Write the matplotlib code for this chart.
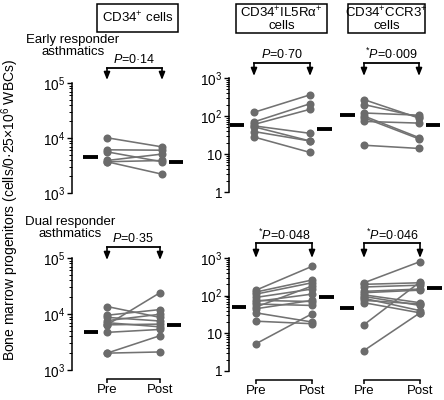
import matplotlib
matplotlib.use('Agg')
import matplotlib.pyplot as plt
from matplotlib.patches import Rectangle
from matplotlib.ticker import FixedLocator, LogLocator, NullFormatter
import numpy as np

# ---------------- data ----------------
headers = ["CD34$^{+}$ cells", "CD34$^{+}$IL5Rα$^{+}$\ncells", "CD34$^{+}$CCR3$^{+}$\ncells"]
groups = ["Early responder\nasthmatics", "Dual responder\nasthmatics"]
xlabels = ["Pre", "Post"]

# Early responders
early_cd34_pre = [10100, 6100, 5600, 3900, 3700, 3700]
early_cd34_post = [6900, 6000, 3700, 5100, 3900, 2200]
early_cd34_med = [4500, 3700]
early_il5_pre = [125, 70, 60, 55, 52, 39, 28]
early_il5_post = [360, 210, 150, 35, 22, 22, 11]
early_il5_med = [58, 45]
early_ccr3_pre = [270, 200, 120, 100, 90, 72, 17]
early_ccr3_post = [88, 95, 105, 27, 25, 65, 14]
early_ccr3_med = [105, 58]

# Dual responders
dual_cd34_pre = [13600, 9500, 8700, 7600, 7000, 6400, 6400, 4700, 2000, 2000]
dual_cd34_post = [8700, 12000, 7500, 9900, 5900, 24000, 6600, 5300, 4100, 2100]
dual_cd34_med = [4700, 6300]
dual_il5_pre = [140, 125, 110, 90, 75, 70, 60, 50, 45, 35, 21, 5.3]
dual_il5_post = [600, 260, 220, 150, 70, 110, 55, 180, 75, 20, 18, 33]
dual_il5_med = [49, 95]
dual_ccr3_pre = [220, 200, 170, 130, 120, 105, 95, 85, 75, 65, 17, 3.5]
dual_ccr3_post = [800, 220, 190, 150, 140, 65, 55, 40, 60, 35, 230, 35]
dual_ccr3_med = [47, 160]

pvals = ["$\\it{P}$=0·14", "$\\it{P}$=0·70", "$^{*}$$\\it{P}$=0·009",
         "$\\it{P}$=0·35", "$^{*}$$\\it{P}$=0·048", "$^{*}$$\\it{P}$=0·046"]

cd34_ticks = [1e3, 1e4, 1e5]
cd34_ticklabels = ["10$^{3}$", "10$^{4}$", "10$^{5}$"]
sub_ticks = [1, 10, 100, 1000]
sub_ticklabels = ["1", "10", "10$^{2}$", "10$^{3}$"]

# ---------------- style ----------------
W, H = 444, 400
plt.rcParams['font.family'] = ['Liberation Sans', 'DejaVu Sans']
plt.rcParams['mathtext.fontset'] = 'custom'
plt.rcParams['mathtext.rm'] = 'Liberation Sans'
plt.rcParams['mathtext.it'] = 'Liberation Sans:italic'
plt.rcParams['mathtext.bf'] = 'Liberation Sans:bold'

PT = '#6b6b6b'
LN = '#727272'

fig = plt.figure(figsize=(W / 100, H / 100), dpi=100)


def add_ax(l, t, r, b):
    return fig.add_axes([l / W, 1 - b / H, (r - l) / W, (b - t) / H])


def panel(box, pre_px, post_px, ylim, pre, post, med, yaxis, bottom, ptxt,
          br_y, tip_y, txt_y):
    l, t, r, b = box
    ax = add_ax(l, t, r, b)
    ax.patch.set_alpha(0)
    unit = post_px - pre_px
    ax.set_xlim((l - pre_px) / unit, (r - pre_px) / unit)
    ax.set_yscale('log')
    ax.set_ylim(*ylim)
    for a, c in zip(pre, post):
        ax.plot([0, 1], [a, c], color=LN, lw=1.15, zorder=2, clip_on=False)
    ax.plot(np.zeros(len(pre)), pre, 'o', ms=5.8, color=PT, mec='none',
            zorder=3, clip_on=False)
    ax.plot(np.ones(len(post)), post, 'o', ms=5.8, color=PT, mec='none',
            zorder=3, clip_on=False)
    ax.plot([-0.43, -0.17], [med[0], med[0]], color='k', lw=2.8,
            solid_capstyle='butt', zorder=4, clip_on=False)
    ax.plot([1.13, 1.39], [med[1], med[1]], color='k', lw=2.8,
            solid_capstyle='butt', zorder=4, clip_on=False)

    for s in ['top', 'right']:
        ax.spines[s].set_visible(False)
    if yaxis is not None:
        ticks, labels = yaxis
        ax.spines['left'].set_linewidth(1.1)
        ax.yaxis.set_major_locator(FixedLocator(ticks))
        ax.set_yticklabels(labels)
        ax.yaxis.set_minor_locator(LogLocator(base=10, subs=np.arange(2, 10)))
        ax.yaxis.set_minor_formatter(NullFormatter())
        ax.tick_params(axis='y', which='major', length=3.5, width=1.0,
                       direction='out', labelsize=9.8, pad=1.5)
        ax.tick_params(axis='y', which='minor', length=2.2, width=0.7,
                       direction='out')
    else:
        ax.spines['left'].set_visible(False)
        ax.yaxis.set_major_locator(FixedLocator([]))
        ax.yaxis.set_minor_locator(FixedLocator([]))
    if bottom:
        ax.spines['bottom'].set_bounds(0, 1)
        ax.spines['bottom'].set_position(('outward', 6.5))
        ax.spines['bottom'].set_linewidth(1.1)
        ax.set_xticks([0, 1])
        ax.set_xticklabels(xlabels)
        ax.tick_params(axis='x', length=3, width=1.1, direction='out',
                       labelsize=9.5, pad=0.8)
    else:
        ax.spines['bottom'].set_visible(False)
        ax.set_xticks([])

    # bracket with arrows
    h = b - t
    by = 1 + (t - br_y) / h
    ty = 1 + (t - tip_y) / h
    tr = ax.get_xaxis_transform()
    ax.plot([0, 1], [by, by], color='k', lw=1.3, transform=tr, clip_on=False,
            solid_capstyle='projecting')
    for x in (0, 1):
        ax.annotate('', xy=(x, ty), xytext=(x, by), xycoords=tr, textcoords=tr,
                    arrowprops=dict(arrowstyle='-|>,head_length=0.45,head_width=0.18',
                                    color='k', lw=1.2, shrinkA=0, shrinkB=0,
                                    mutation_scale=10))
    ax.text(0.5, 1 + (t - txt_y) / h, ptxt, transform=tr, ha='center',
            va='center', fontsize=9)
    return ax


# top row
panel((72, 83, 200, 193), 107, 162, (1e3, 1e5), early_cd34_pre, early_cd34_post,
      early_cd34_med, (cd34_ticks, cd34_ticklabels), False, pvals[0], 68, 80, 60)
panel((229, 78, 340, 192), 254, 310, (1, 1e3), early_il5_pre, early_il5_post,
      early_il5_med, (sub_ticks, sub_ticklabels), False, pvals[1], 63, 76, 54)
panel((340, 78, 444, 192), 364, 419, (1, 1e3), early_ccr3_pre, early_ccr3_post,
      early_ccr3_med, None, False, pvals[2], 63, 76, 54)

# bottom row
panel((72, 258, 200, 370), 107, 160, (1e3, 1e5), dual_cd34_pre, dual_cd34_post,
      dual_cd34_med, (cd34_ticks, cd34_ticklabels), True, pvals[3], 247, 260, 238)
panel((229, 258, 340, 371), 256, 312, (1, 1e3), dual_il5_pre, dual_il5_post,
      dual_il5_med, (sub_ticks, sub_ticklabels), True, pvals[4], 243, 258, 235)
panel((340, 258, 444, 371), 364, 420, (1, 1e3), dual_ccr3_pre, dual_ccr3_post,
      dual_ccr3_med, None, True, pvals[5], 243, 258, 235)

# header boxes
boxes = [(97, 4, 178, 32), (236, 4, 327, 33), (348, 4, 425, 33)]
for (l, t, r, b), txt in zip(boxes, headers):
    fig.patches.append(Rectangle((l / W, 1 - b / H), (r - l) / W, (b - t) / H,
                                 transform=fig.transFigure, fill=False,
                                 edgecolor='k', lw=1.1))
    fig.text((l + r) / 2 / W, 1 - (t + b) / 2 / H, txt, ha='center', va='center',
             fontsize=9.5, linespacing=1.0)

# group labels
fig.text(73 / W, 1 - 46 / H, groups[0], ha='center', va='center', fontsize=9.5,
         linespacing=1.05)
fig.text(70 / W, 1 - 228 / H, groups[1], ha='center', va='center', fontsize=9.5,
         linespacing=1.05)

# y label
fig.text(10 / W, 1 - 210 / H, "Bone marrow progenitors (cells/0·25×10$^{6}$ WBCs)",
         rotation=90, ha='center', va='center', fontsize=10)

fig.savefig('out.png', dpi=100)
